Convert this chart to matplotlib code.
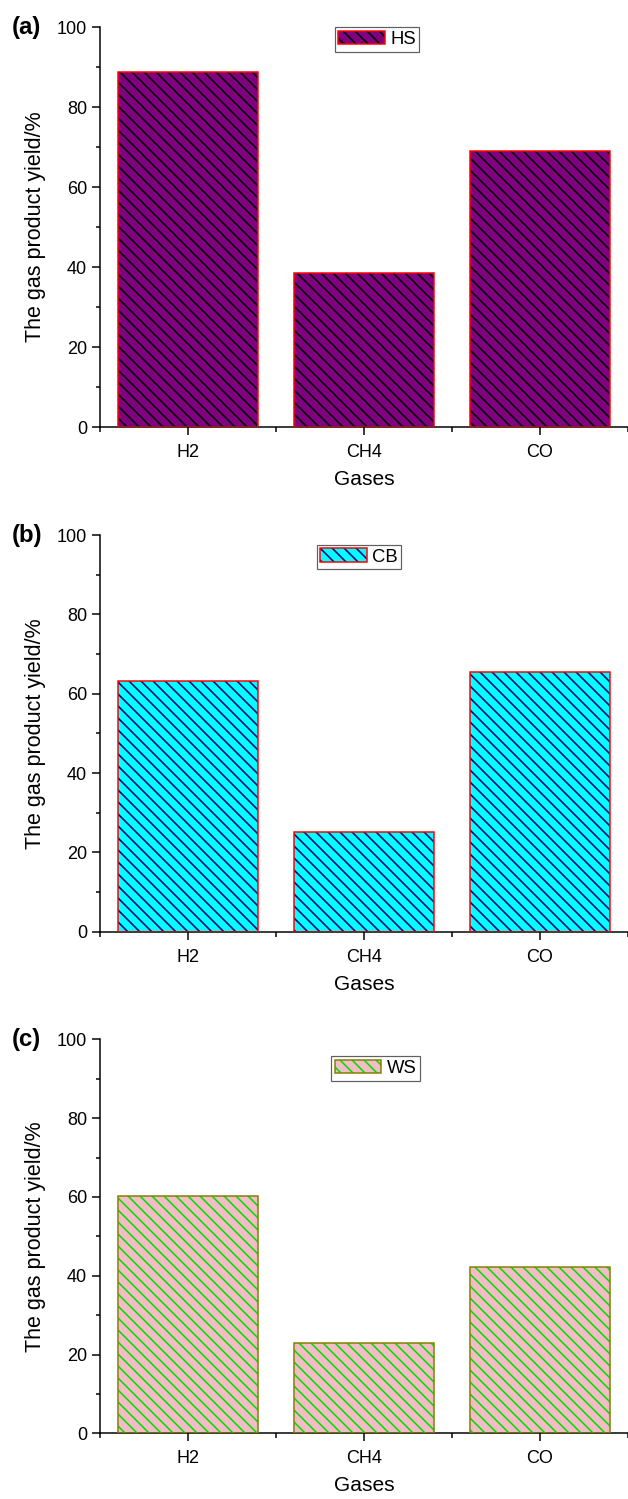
import matplotlib
matplotlib.use("Agg")
import matplotlib.pyplot as plt
from matplotlib.ticker import MultipleLocator, FixedLocator
from matplotlib.legend_handler import HandlerTuple

plt.rcParams['font.family'] = ['Liberation Sans', 'DejaVu Sans']
plt.rcParams['hatch.linewidth'] = 1.6

categories = ['H2', 'CH4', 'CO']
hs_vals = [88.7, 38.4, 69.0]
cb_vals = [63.3, 25.2, 65.4]
ws_vals = [60.2, 23.0, 42.3]

panels = [
    dict(tag='(a)', name='HS', vals=hs_vals, face='#800080', hatchc='#000000', edge='#FF0000',
         rect=[100/628, 1-427/1499, 528/628, 400/1499], leg=(377/628, 1-39.5/1499)),
    dict(tag='(b)', name='CB', vals=cb_vals, face='#00FFFF', hatchc='#000080', edge='#FF0000',
         rect=[100/628, 1-931.7/1499, 528/628, 396.7/1499], leg=(359/628, 1-557/1499)),
    dict(tag='(c)', name='WS', vals=ws_vals, face='#F4BCC6', hatchc='#00E000', edge='#808000',
         rect=[100/628, 1-1433.3/1499, 528/628, 394/1499], leg=(375.5/628, 1-1068.5/1499)),
]

DPI = 72
fig = plt.figure(figsize=(628/DPI, 1499/DPI), dpi=DPI)

x = [1, 2, 3]
for p in panels:
    ax = fig.add_axes(p['rect'])
    b1 = ax.bar(x, p['vals'], width=0.8, color=p['face'], linewidth=0, zorder=2)
    b2 = ax.bar(x, p['vals'], width=0.8, facecolor='none', edgecolor=p['hatchc'],
                linewidth=0, hatch='\\\\', zorder=3)
    b3 = ax.bar(x, p['vals'], width=0.8, facecolor='none', edgecolor=p['edge'],
                linewidth=1.5, zorder=4)
    ax.set_xlim(0.5, 3.5)
    ax.set_ylim(0, 100)
    ax.set_xticks(x)
    ax.set_xticklabels(categories)
    ax.xaxis.set_minor_locator(FixedLocator([0.5, 1.5, 2.5, 3.5]))
    ax.yaxis.set_major_locator(MultipleLocator(20))
    ax.yaxis.set_minor_locator(MultipleLocator(10))
    for s in ['top', 'right']:
        ax.spines[s].set_visible(False)
    for s in ['left', 'bottom']:
        ax.spines[s].set_linewidth(1.5)
    ax.tick_params(which='major', length=8, width=1.5, labelsize=18)
    ax.tick_params(axis='x', which='major', pad=9)
    ax.tick_params(axis='y', which='major', pad=5)
    ax.tick_params(which='minor', length=4.5, width=1.5)
    ax.set_xlabel('Gases', fontsize=21, labelpad=9)
    ax.set_ylabel('The gas product yield/%', fontsize=21.5, labelpad=11)
    ax.text(12/628, p['rect'][1] + p['rect'][3], p['tag'], transform=fig.transFigure,
            fontsize=24, fontweight='bold', ha='left', va='center')
    h0, h1, h2 = b1.patches[0], b2.patches[0], b3.patches[0]
    leg = ax.legend([(h0, h1, h2)], [p['name']], loc='center',
                    bbox_to_anchor=p['leg'], bbox_transform=fig.transFigure,
                    handler_map={tuple: HandlerTuple(ndivide=1, pad=0)},
                    fontsize=18.5, handlelength=2.5, handleheight=0.75,
                    handletextpad=0.3, borderpad=0.2, borderaxespad=0,
                    fancybox=False, framealpha=1, edgecolor='#606060')
    leg.get_frame().set_linewidth(1.2)

fig.savefig('out.png', dpi=DPI)
